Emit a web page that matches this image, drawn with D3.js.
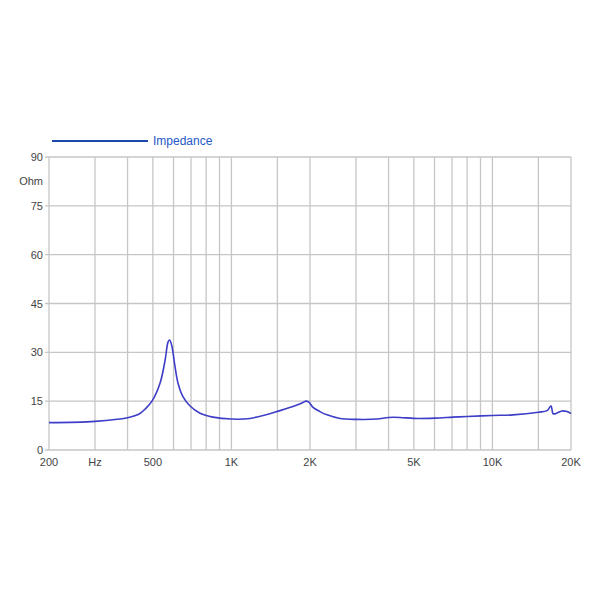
<!DOCTYPE html>
<html lang="en">
<head>
<meta charset="UTF-8">
<title>Impedance</title>
<script src="https://d3js.org/d3.v7.min.js"></script>
<style>
  body { margin: 0; background: #fff; font-family: "Liberation Sans", Arial, sans-serif; }
  .grid line { stroke: #c6c6c6; stroke-width: 1.3; }
  .tick-label { font-size: 11px; fill: #444; }
</style>
</head>
<body>
<svg id="chart" width="600" height="600"></svg>
<script>
  // Impedance curve
  const freq = [200, 300, 400, 446, 470, 496, 533, 557, 572, 580, 591, 608, 624, 652, 694, 758, 850, 1000, 1178, 1535, 1784, 1880, 1930, 1985, 2054, 2184, 2323, 2606, 3000, 3611, 4000, 4425, 5000, 6025, 7060, 8000, 10000, 11980, 15000, 16190, 16760, 17060, 17360, 18470, 19310, 20000];
  const ohm  = [8.4, 8.8, 9.9, 11.2, 12.8, 15.0, 20.6, 27.6, 33.2, 33.8, 32.0, 25.6, 20.6, 16.4, 13.5, 11.3, 10.1, 9.5, 9.7, 12.1, 13.8, 14.6, 15.0, 14.6, 13.1, 11.8, 10.8, 9.7, 9.4, 9.5, 10.0, 10.0, 9.7, 9.8, 10.1, 10.3, 10.6, 10.8, 11.6, 12.1, 13.5, 11.2, 11.1, 12.0, 11.8, 11.2];

  const yTicks = [0, 15, 30, 45, 60, 75, 90];
  const xGrid = [300, 400, 500, 600, 700, 800, 900, 1000, 1500, 2000, 3000, 4000, 5000, 6000, 7000, 8000, 9000, 10000, 15000, 20000];
  const xLabels = [[200, "200"], [300, "Hz"], [500, "500"], [1000, "1K"], [2000, "2K"], [5000, "5K"], [10000, "10K"], [20000, "20K"]];

  const mLeft = 49, mRight = 571, mTop = 157, mBottom = 450;
  const svg = d3.select('#chart');

  const x = d3.scaleLog().domain([200, 20000]).range([mLeft, mRight]);
  const y = d3.scaleLinear().domain([0, 90]).range([mBottom, mTop]);

  const grid = svg.append('g').attr('class', 'grid');
  grid.selectAll('.h').data(yTicks).enter().append('line')
    .attr('x1', mLeft - 4).attr('x2', mRight)
    .attr('y1', d => y(d)).attr('y2', d => y(d));
  grid.selectAll('.v').data(xGrid).enter().append('line')
    .attr('x1', d => x(d)).attr('x2', d => x(d))
    .attr('y1', mTop).attr('y2', mBottom);
  grid.append('line').attr('x1', mLeft).attr('x2', mLeft).attr('y1', mTop).attr('y2', mBottom);

  svg.selectAll('.ylab').data(yTicks).enter().append('text')
    .attr('class', 'tick-label')
    .attr('x', mLeft - 6).attr('y', d => y(d) + 4)
    .attr('text-anchor', 'end')
    .text(d => d);
  svg.append('text').attr('class', 'tick-label')
    .attr('x', mLeft - 6).attr('y', (y(90) + y(75)) / 2 + 4)
    .attr('text-anchor', 'end').text('Ohm');

  svg.selectAll('.xlab').data(xLabels).enter().append('text')
    .attr('class', 'tick-label')
    .attr('x', d => x(d[0])).attr('y', mBottom + 16)
    .attr('text-anchor', 'middle')
    .text(d => d[1]);

  const line = d3.line()
    .x(d => x(d[0])).y(d => y(d[1]))
    .curve(d3.curveCatmullRom.alpha(0.5));
  svg.append('path')
    .datum(d3.zip(freq, ohm))
    .attr('d', line)
    .attr('fill', 'none')
    .attr('stroke', '#3d3dc8')
    .attr('stroke-width', 1.6);

  // legend
  svg.append('line').attr('x1', 52).attr('x2', 148).attr('y1', 141).attr('y2', 141)
    .attr('stroke', '#1a4aaa').attr('stroke-width', 2);
  svg.append('text').attr('x', 153).attr('y', 145)
    .attr('font-size', 12).attr('fill', '#2458c8').text('Impedance');
</script>
</body>
</html>
